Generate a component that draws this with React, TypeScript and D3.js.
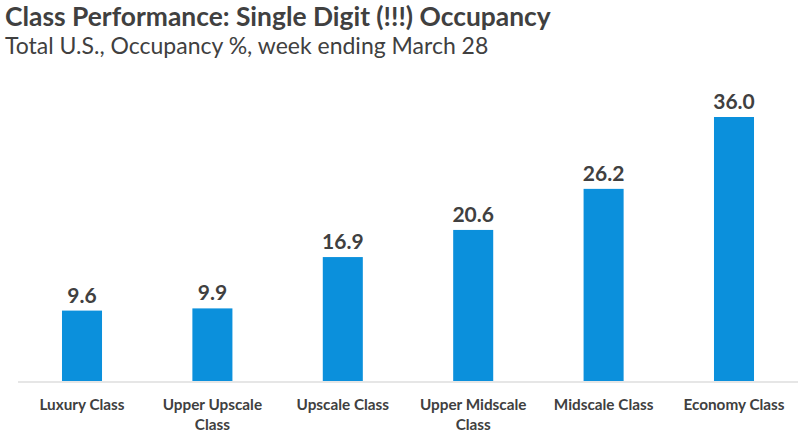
import React from "react";
import * as d3 from "d3";

const categories: string[][] = [
  ["Luxury Class"],
  ["Upper Upscale", "Class"],
  ["Upscale Class"],
  ["Upper Midscale", "Class"],
  ["Midscale Class"],
  ["Economy Class"],
];
const values: number[] = [9.6, 9.9, 16.9, 20.6, 26.2, 36.0];
const title = "Class Performance: Single Digit (!!!) Occupancy";
const subtitle = "Total U.S., Occupancy %, week ending March 28";

const W = 800;
const H = 435;
const FONT = "Lato, 'Open Sans', sans-serif";
const TEXT = "#404040";
const BAR = "#0b90dc";

export default function App() {
  const keys = categories.map((c) => c.join(" "));
  const x = d3
    .scaleBand<string>()
    .domain(keys)
    .range([17, 799])
    .paddingInner(0.693)
    .paddingOuter(0.345);
  const y = d3.scaleLinear().domain([0, 36]).range([381, 117]);

  return (
    <svg
      width={W}
      height={H}
      style={{ position: "absolute", left: 0, top: 0, background: "#fff" }}
      fontFamily={FONT}
    >
      <text x={5} y={26} fontSize={26.4} fontWeight={700} fill={TEXT}>
        {title}
      </text>
      <text x={5} y={54} fontSize={23} fill={TEXT}>
        {subtitle}
      </text>
      <line x1={18} x2={798} y1={382} y2={382} stroke="#e6e6e6" strokeWidth={2} />
      {values.map((v, i) => {
        const k = keys[i];
        const bx = x(k)!;
        const cx = bx + x.bandwidth() / 2;
        return (
          <g key={k}>
            <rect x={bx} y={y(v)} width={x.bandwidth()} height={y(0) - y(v)} fill={BAR} />
            <text
              x={cx}
              y={y(v) - 8}
              textAnchor="middle"
              fontSize={21}
              fontWeight={700}
              fill={TEXT}
            >
              {v.toFixed(1)}
            </text>
            {categories[i].map((line, j) => (
              <text
                key={j}
                x={cx}
                y={410 + j * 20}
                textAnchor="middle"
                fontSize={15.3}
                fontWeight={700}
                fill={TEXT}
              >
                {line}
              </text>
            ))}
          </g>
        );
      })}
    </svg>
  );
}
